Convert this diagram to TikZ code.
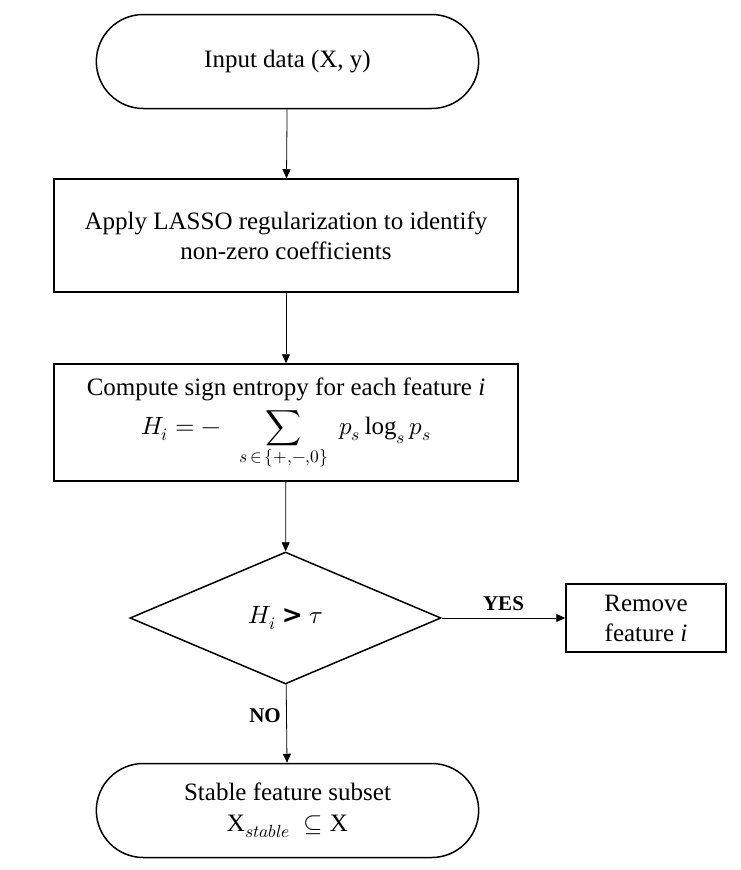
\documentclass[tikz,border=0pt]{standalone}
\usepackage{unicode-math}
\setmainfont{Liberation Serif}
\setmathfont{Latin Modern Math}
\newfontfamily\symfont{DejaVu Sans}
\usetikzlibrary{shapes.geometric,shapes.misc,arrows.meta}
\begin{document}
\begin{tikzpicture}[x=1pt,y=-1pt,
  txt/.style={font=\fontsize{25}{30}\selectfont},
  term/.style={txt,draw,line width=1.5pt,rounded rectangle,minimum width=389pt,minimum height=94pt,align=center},
  proc/.style={txt,draw,line width=1.5pt,rectangle,minimum width=464pt,align=center},
  dec/.style={txt,draw,line width=1.5pt,diamond,minimum width=311pt,minimum height=132pt,inner sep=0pt},
  conn/.style={line width=0.8pt,-{Triangle[length=9pt,width=8pt]}},
  lbl/.style={font=\fontsize{21}{25}\selectfont\bfseries}]
\useasboundingbox (0,0) rectangle (741,870);
\node[term] (in) at (287.5,61.5) {Input data (X, y)};
\node[proc,minimum height=113pt] (lasso) at (286,235.5) {Apply LASSO regularization to identify\\non-zero coefficients};
\node[proc,minimum height=117pt,inner sep=0pt] (ent) at (286,422.5) {\begin{tabular}{@{}c@{}}Compute sign entropy for each feature \textit{i}\\[6pt]
  $\displaystyle H_i = -\;\;\sum_{s\,\in\,\{+,-,0\}}\; p_s \log_s p_s$\end{tabular}};
\node[dec] (dec) at (285.5,618) {$H_i$ {\symfont\bfseries >} $\tau$};
\node[txt,draw,line width=1.5pt,minimum width=160pt,minimum height=68pt,align=center] (rem) at (646,618) {Remove\\feature \textit{i}};
\node[term,font=\fontsize{25}{31}\selectfont] (out) at (287.5,810.5) {Stable feature subset\\$\mathrm{X}_{stable}\ \subseteq \mathrm{X}$};
\draw[conn] (in) -- (lasso);
\draw[conn] (lasso) -- (ent);
\draw[conn] (ent) -- (dec);
\draw[conn] (dec) -- node[lbl,above=4pt] {YES} (rem);
\draw[conn] (dec) -- node[lbl,left=2pt,pos=0.4] {NO} (out);
\end{tikzpicture}
\end{document}
